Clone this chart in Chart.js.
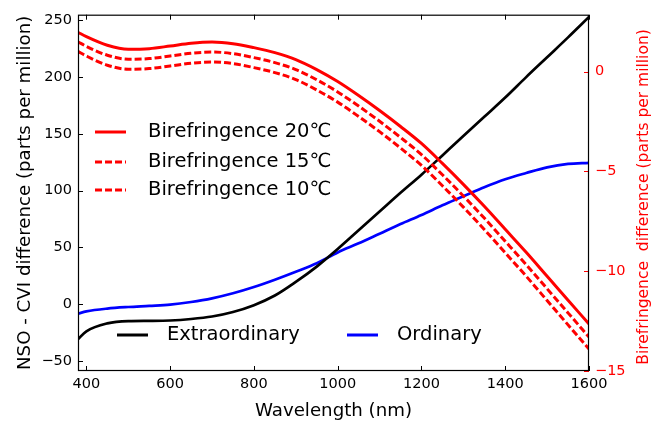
<!DOCTYPE html>
<html><head><meta charset="utf-8">
<script src="https://cdn.jsdelivr.net/npm/chart.js@4"></script>
<style>html,body{margin:0;padding:0;background:#fff}#wrap{width:657px;height:422px}</style>
</head><body><div id="wrap"><canvas id="c" width="657" height="422"></canvas></div>
<script>
const wavelengths = [380,400,450,500,550,600,650,700,750,800,850,900,950,1000,1050,1100,1150,1200,1250,1300,1350,1400,1450,1500,1550,1600];
const extraordinary = [-31,-24,-17,-15,-14.8,-14.5,-13.2,-11,-7,-1,7.5,19.5,33,48.5,65,81.5,98,114,131,148,165,182,200,217.5,235,253];
const ordinary = [-8.5,-6.5,-4,-2.6,-1.6,-0.5,1.8,5,9.5,15,21.5,28.5,36,45.5,53.5,62,70.5,78.5,87,95,103,110,115.5,120.5,123.5,124.5];
const biref20 = [1.97,1.75,1.32,1.12,1.15,1.28,1.42,1.48,1.40,1.20,0.95,0.60,0.10,-0.50,-1.20,-1.95,-2.75,-3.60,-4.60,-5.65,-6.75,-7.90,-9.05,-10.25,-11.45,-12.65];
const biref15 = [1.49,1.26,0.82,0.62,0.65,0.78,0.92,0.98,0.90,0.70,0.45,0.10,-0.41,-1.02,-1.73,-2.49,-3.30,-4.16,-5.17,-6.23,-7.34,-8.50,-9.67,-10.88,-12.09,-13.30];
const biref10 = [1.01,0.78,0.32,0.12,0.15,0.28,0.42,0.48,0.40,0.20,-0.05,-0.40,-0.92,-1.53,-2.25,-3.01,-3.83,-4.70,-5.72,-6.79,-7.91,-9.08,-10.25,-11.47,-12.69,-13.90];
const xTicks = [400,600,800,1000,1200,1400,1600];
const leftTicks = [-50,0,50,100,150,200,250];
const rightTicks = [-15,-10,-5,0];
const legendBiref = ['Birefringence 20\u2103','Birefringence 15\u2103','Birefringence 10\u2103'];
const legendNso = ['Extraordinary','Ordinary'];

const FONT = 'DejaVu Sans';
const pts = arr => arr.map((v,i)=>({x:wavelengths[i], y:v}));
const minus = v => String(v).replace('-', '\u2212');

const deco = {
  id:'deco',
  afterDatasetsDraw(chart){
    const {ctx, chartArea:a, scales} = chart;
    ctx.save();
    ctx.lineWidth = 1;
    ctx.strokeStyle = '#000';
    ctx.beginPath();
    xTicks.forEach(v=>{
      const x = Math.round(scales.x.getPixelForValue(v))+0.5;
      ctx.moveTo(x,a.bottom); ctx.lineTo(x,a.bottom-5);
      ctx.moveTo(x,a.top); ctx.lineTo(x,a.top+5);
    });
    leftTicks.forEach(v=>{
      const y = Math.round(scales.y.getPixelForValue(v))+0.5;
      ctx.moveTo(a.left,y); ctx.lineTo(a.left+5,y);
    });
    ctx.stroke();
    ctx.strokeStyle = '#ff0000';
    ctx.beginPath();
    rightTicks.forEach(v=>{
      const y = Math.round(scales.y2.getPixelForValue(v))+0.5;
      ctx.moveTo(a.right,y); ctx.lineTo(a.right-5,y);
    });
    ctx.stroke();
    ctx.strokeStyle = '#000';
    ctx.lineWidth = 1.2;
    ctx.strokeRect(a.left+0.5, a.top+0.5, a.right-a.left-1, a.bottom-a.top-1);

    // legends
    ctx.font = '19.5px "' + FONT + '"';
    ctx.textBaseline = 'middle';
    ctx.textAlign = 'left';
    ctx.fillStyle = '#000';
    const rows = [132,162,190];
    const dashes = [[],[7,3],[7,3]];
    rows.forEach((y,i)=>{
      ctx.strokeStyle = '#ff0000'; ctx.lineWidth = 3; ctx.setLineDash(dashes[i]);
      ctx.beginPath(); ctx.moveTo(95,y); ctx.lineTo(126,y); ctx.stroke();
      ctx.setLineDash([]);
      ctx.fillText(legendBiref[i], 148, y);
    });
    const l2 = [{x:117,tx:167,c:'#000'},{x:347,tx:397,c:'#0000ff'}];
    l2.forEach((o,i)=>{
      ctx.strokeStyle = o.c; ctx.lineWidth = 3;
      ctx.beginPath(); ctx.moveTo(o.x,335); ctx.lineTo(o.x+31,335); ctx.stroke();
      ctx.fillText(legendNso[i], o.tx, 335);
    });
    // right title
    ctx.save();
    ctx.translate(644, 197);
    ctx.rotate(-Math.PI/2);
    ctx.textAlign = 'center';
    ctx.fillStyle = '#ff0000';
    ctx.font = '15.5px "' + FONT + '"';
    ctx.fillText('Birefringence  difference (parts per million)', 0, 0);
    ctx.restore();
    ctx.restore();
  }
};

new Chart(document.getElementById('c'), {
  type:'line',
  data:{datasets:[
    {label:legendBiref[0], data:pts(biref20), yAxisID:'y2', borderColor:'#ff0000', borderWidth:3, pointRadius:0, cubicInterpolationMode:'monotone'},
    {label:legendBiref[1], data:pts(biref15), yAxisID:'y2', borderColor:'#ff0000', borderWidth:3, borderDash:[7,3], pointRadius:0, cubicInterpolationMode:'monotone'},
    {label:legendBiref[2], data:pts(biref10), yAxisID:'y2', borderColor:'#ff0000', borderWidth:3, borderDash:[7,3], pointRadius:0, cubicInterpolationMode:'monotone'},
    {label:legendNso[0], data:pts(extraordinary), yAxisID:'y', borderColor:'#000000', borderWidth:2.7, pointRadius:0, cubicInterpolationMode:'monotone'},
    {label:legendNso[1], data:pts(ordinary), yAxisID:'y', borderColor:'#0000ff', borderWidth:2.7, pointRadius:0, cubicInterpolationMode:'monotone'}
  ]},
  options:{
    responsive:false, animation:false, devicePixelRatio:1,
    layout:{padding:{top:13,left:0,right:0,bottom:0}},
    plugins:{legend:{display:false}, tooltip:{enabled:false}},
    scales:{
      x:{type:'linear', min:380, max:1600,
        afterBuildTicks:s=>{s.ticks = xTicks.map(v=>({value:v}));},
        afterFit:s=>{s.height = 51;},
        grid:{display:false, drawTicks:false}, border:{display:false},
        ticks:{padding:5, color:'#000', font:{family:FONT,size:14.5}, maxRotation:0, callback:v=>minus(v)},
        title:{display:true, text:'Wavelength (nm)', color:'#000', font:{family:FONT,size:18.2,lineHeight:1.2}, padding:{top:0,bottom:0}}
      },
      y:{type:'linear', position:'left', min:-59, max:255,
        afterBuildTicks:s=>{s.ticks = leftTicks.map(v=>({value:v}));},
        afterFit:s=>{s.width = 78;},
        grid:{display:false, drawTicks:false}, border:{display:false},
        ticks:{padding:6, color:'#000', font:{family:FONT,size:14.5}, callback:v=>minus(v)},
        title:{display:true, text:'NSO - CVI difference (parts per million)', color:'#000', font:{family:FONT,size:18.2,lineHeight:1.2}, padding:{top:14,bottom:0}}
      },
      y2:{type:'linear', position:'right', min:-15, max:2.85,
        afterBuildTicks:s=>{s.ticks = rightTicks.map(v=>({value:v}));},
        afterFit:s=>{s.width = 68;},
        grid:{display:false, drawTicks:false}, border:{display:false},
        ticks:{padding:6, color:'#ff0000', font:{family:FONT,size:14.5}, callback:v=>minus(v)}
      }
    }
  },
  plugins:[deco]
});
</script></body></html>
